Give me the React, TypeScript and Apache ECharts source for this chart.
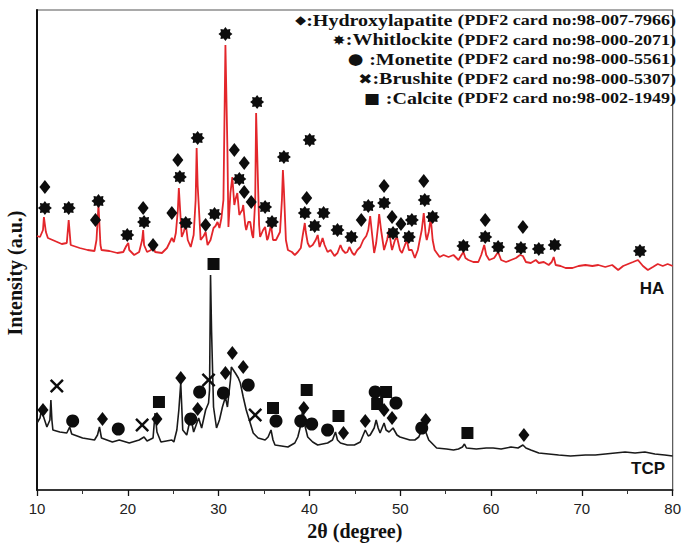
import React, { useEffect, useRef } from "react";
import * as echarts from "echarts";

// XRD pattern of HA sample (2θ in degrees, intensity in a.u.)
const haPattern: [number, number][] = [
  [10.0, 254], [10.33, 253], [10.66, 260], [10.76, 273], [10.98, 258], [11.2, 252], [11.97, 249], [12.73, 246], [13.28, 247], [13.49, 270], [13.71, 245],
  [14.7, 242], [15.57, 240], [16.33, 239], [16.55, 250], [16.77, 285], [16.99, 245], [17.1, 240], [17.97, 239], [18.85, 237], [19.5, 238], [19.83, 244],
  [20.05, 247], [20.16, 240], [20.7, 235], [21.25, 238], [21.58, 250], [21.69, 260], [21.79, 245], [22.12, 238], [22.56, 240], [22.78, 245], [23.0, 238],
  [23.76, 237], [24.31, 242], [24.85, 252], [25.07, 248], [25.29, 257], [25.51, 280], [25.62, 302], [25.73, 285], [25.94, 253], [26.16, 258], [26.38, 266],
  [26.6, 250], [26.93, 243], [27.25, 255], [27.47, 290], [27.58, 342], [27.69, 305], [28.02, 250], [28.35, 254], [28.57, 258], [28.78, 245], [29.11, 250],
  [29.44, 262], [29.66, 264], [29.88, 268], [30.09, 262], [30.31, 272], [30.53, 290], [30.75, 445], [30.97, 340], [31.08, 263], [31.3, 297], [31.51, 313],
  [31.73, 285], [31.84, 290], [32.06, 297], [32.28, 275], [32.39, 277], [32.61, 280], [32.71, 285], [32.93, 265], [33.04, 260], [33.26, 268], [33.48, 268],
  [33.7, 255], [33.81, 252], [34.03, 290], [34.13, 377], [34.24, 340], [34.46, 265], [34.57, 253], [34.9, 260], [35.12, 263], [35.34, 250], [35.45, 252],
  [35.77, 265], [35.99, 250], [36.32, 250], [36.76, 258], [36.97, 290], [37.08, 320], [37.19, 300], [37.41, 250], [37.63, 240], [38.07, 238], [38.39, 235],
  [38.72, 238], [39.05, 242], [39.27, 255], [39.49, 267], [39.6, 258], [39.81, 247], [40.03, 243], [40.36, 245], [40.69, 250], [40.91, 255], [41.12, 243],
  [41.45, 252], [41.67, 245], [42.0, 238], [42.33, 240], [42.76, 234], [43.09, 237], [43.42, 245], [43.64, 240], [43.96, 237], [44.18, 238], [44.4, 243],
  [44.73, 237], [44.95, 235], [45.27, 240], [45.6, 243], [45.93, 250], [46.26, 254], [46.48, 260], [46.69, 274], [46.91, 255], [47.13, 237], [47.35, 247],
  [47.57, 265], [47.68, 276], [47.89, 260], [48.22, 240], [48.55, 250], [48.77, 260], [48.99, 245], [49.1, 240], [49.42, 250], [49.64, 253], [49.97, 240],
  [50.19, 237], [50.52, 245], [50.73, 250], [50.95, 240], [51.28, 240], [51.61, 232], [51.94, 240], [52.15, 250], [52.37, 260], [52.59, 277], [52.81, 255],
  [52.92, 250], [53.14, 258], [53.36, 272], [53.57, 250], [53.79, 240], [54.34, 233], [54.77, 235], [55.32, 233], [55.87, 235], [56.41, 230], [56.74, 235],
  [56.96, 238], [57.18, 232], [57.5, 230], [58.05, 228], [58.6, 228], [58.92, 235], [59.25, 245], [59.47, 235], [59.8, 230], [60.34, 232], [60.78, 238],
  [61.11, 230], [61.65, 228], [62.2, 230], [62.75, 232], [63.18, 235], [63.51, 234], [63.84, 228], [64.38, 227], [64.93, 230], [65.26, 227], [65.81, 228],
  [66.35, 225], [66.68, 228], [66.9, 233], [67.12, 225], [67.66, 224], [68.21, 222], [68.97, 222], [69.63, 224], [70.39, 225], [71.16, 224], [71.81, 225],
  [72.58, 223], [73.34, 225], [74.0, 220], [74.55, 224], [75.09, 226], [75.64, 228], [76.18, 230], [76.73, 224], [77.27, 220], [77.82, 223], [78.36, 226],
  [78.91, 224], [79.45, 226], [80.0, 224],
];

// XRD pattern of TCP sample
const tcpPattern: [number, number][] = [
  [10.0, 67], [10.33, 72], [10.55, 83], [10.66, 75], [11.09, 63], [11.42, 70], [11.53, 90], [11.64, 70], [11.75, 60], [12.51, 58], [13.28, 57], [13.6, 63],
  [13.82, 56], [15.02, 52], [16.33, 50], [16.66, 55], [16.88, 63], [17.1, 52], [18.3, 48], [19.06, 50], [20.16, 47], [21.25, 50], [21.79, 53], [22.12, 49],
  [22.78, 52], [23.0, 77], [23.21, 58], [23.65, 48], [24.85, 50], [25.07, 48], [25.4, 60], [25.62, 80], [25.83, 107], [26.05, 60], [26.49, 55], [26.93, 73],
  [27.25, 58], [27.8, 72], [28.13, 62], [28.57, 80], [28.89, 87], [29.0, 100], [29.11, 215], [29.22, 160], [29.44, 83], [29.77, 62], [30.09, 70], [30.42, 83],
  [30.75, 93], [30.97, 83], [31.3, 110], [31.4, 123], [31.62, 120], [31.84, 117], [32.17, 112], [32.39, 107], [32.71, 93], [33.04, 80], [33.48, 67],
  [33.81, 57], [34.35, 52], [35.12, 50], [35.45, 53], [35.77, 60], [35.99, 50], [36.21, 45], [37.63, 43], [38.39, 47], [38.72, 53], [39.05, 65], [39.27, 82],
  [39.49, 65], [39.81, 53], [40.36, 48], [40.91, 45], [42.0, 47], [42.54, 50], [42.87, 58], [43.09, 50], [43.42, 47], [44.18, 45], [44.95, 45], [45.6, 48],
  [46.15, 60], [46.48, 54], [46.69, 55], [47.13, 62], [47.35, 70], [47.57, 62], [47.78, 57], [48.0, 62], [48.22, 67], [48.44, 60], [48.77, 58], [49.21, 62],
  [49.64, 55], [49.97, 53], [51.06, 50], [51.61, 50], [52.04, 53], [52.37, 60], [52.59, 68], [52.81, 58], [53.14, 50], [54.01, 42], [55.1, 41], [55.87, 40],
  [56.41, 41], [56.85, 43], [57.07, 46], [57.29, 42], [58.38, 41], [59.47, 42], [60.23, 42], [61.11, 41], [62.2, 43], [62.97, 42], [63.51, 45], [63.84, 42],
  [64.38, 40], [65.26, 37], [66.35, 36], [67.44, 35], [68.75, 34], [70.39, 35], [71.48, 35], [72.58, 36], [73.67, 37], [74.76, 38], [75.86, 37], [76.94, 38],
  [78.04, 36], [79.13, 35], [80.0, 34],
];

// Phase markers over the HA pattern
const haHydroxylapatiteMarks: [number, number][] = [
  [10.87, 303], [16.44, 270], [21.69, 282], [22.78, 245], [24.85, 277], [25.51, 330], [28.57, 265], [31.73, 340], [32.82, 327], [32.82, 298],
  [33.59, 288], [39.7, 292], [45.71, 270], [48.22, 304], [49.1, 273], [50.08, 266], [52.59, 309], [59.36, 270], [63.51, 263],
];
const haWhitlockiteMarks: [number, number][] = [
  [10.87, 282], [13.49, 282], [16.77, 289], [19.94, 255], [21.79, 268], [25.73, 313], [26.38, 267], [27.69, 352], [29.55, 276], [30.75, 456],
  [32.28, 311], [34.24, 388], [35.12, 283], [35.88, 268], [37.19, 333], [39.49, 277], [40.03, 350], [40.58, 264], [41.56, 277], [43.09, 260],
  [44.62, 253], [46.48, 284], [48.22, 287], [49.21, 257], [50.95, 253], [51.28, 270], [52.7, 290], [53.57, 273], [56.96, 244], [59.36, 253],
  [60.78, 243], [63.29, 242], [65.26, 241], [67.01, 245], [76.4, 239],
];

// Phase markers over the TCP pattern
const tcpHydroxylapatiteMarks: [number, number][] = [
  [10.66, 80], [17.21, 71], [23.21, 71], [25.83, 112], [27.69, 81], [30.75, 117], [31.51, 137], [32.71, 123], [39.38, 82], [43.75, 57],
  [46.15, 69], [48.22, 80], [49.1, 72], [52.81, 70], [63.62, 55],
];
const tcpMonetiteMarks: [number, number][] = [
  [13.93, 69], [18.95, 61], [26.93, 71], [27.91, 98], [30.53, 97], [33.26, 105], [36.32, 69], [39.05, 69], [40.25, 66], [42.0, 60],
  [47.24, 98], [49.53, 87], [52.37, 62],
];
const tcpBrushiteMarks: [number, number][] = [[12.18, 104], [21.58, 65], [28.89, 110], [34.03, 75]];
const tcpCalciteMarks: [number, number][] = [
  [23.43, 88], [29.44, 226], [35.99, 82], [39.7, 100], [43.2, 74], [47.46, 86], [48.44, 98], [57.4, 57],
];

const phaseSymbols = ["\u25C6", "\u2738", "\u25CF ", "\u2716", "\u25A0 "];
const phaseNames = ["Hydroxylapatite", "Whitlockite", "Monetite", "Brushite", "Calcite"];
const phaseCards = ["98-007-7966", "98-000-2071", "98-000-5561", "98-000-5307", "98-002-1949"];
const sampleLabels = ["HA", "TCP"];

const STAR =
  "path://M20 10L16.47 12.68L17.07 17.07L12.68 16.47L10 20L7.32 16.47L2.93 17.07L3.53 12.68L0 10L3.53 7.32L2.93 2.93L7.32 3.53L10 0L12.68 3.53L17.07 2.93L16.47 7.32Z";
const CROSS = "path://M0 2.5L2.5 0L10 7.5L17.5 0L20 2.5L12.5 10L20 17.5L17.5 20L10 12.5L2.5 20L0 17.5L7.5 10Z";

export default function App() {
  const ref = useRef<HTMLDivElement>(null);
  useEffect(() => {
    if (!ref.current) return;
    const chart = echarts.init(ref.current, undefined, { renderer: "svg" });
    const markColor = "#0d0d0d";
    const scatter = (name: string, data: [number, number][], symbol: string, size: number | number[]) => ({
      name,
      type: "scatter",
      data,
      symbol,
      symbolSize: size,
      itemStyle: { color: markColor, opacity: 1 },
      z: 5,
      silent: true,
    });
    const legendLines = phaseNames.map((n, i) => ({
      type: "text",
      x: 676,
      y: 20 + i * 19.5,
      scaleY: 0.85,
      z: 10,
      style: {
        text: `{s${i}|${phaseSymbols[i]}}{n|:${n} (}{c|PDF2 card no:${phaseCards[i]})}`,
        align: "right",
        verticalAlign: "middle",
        fill: "#111",
        rich: {
          s0: { fontFamily: "DejaVu Sans", fontSize: 14, fill: "#111" },
          s1: { fontFamily: "DejaVu Sans", fontSize: 16, fill: "#111" },
          s2: { fontFamily: "DejaVu Sans", fontSize: 18, fill: "#111" },
          s3: { fontFamily: "DejaVu Sans", fontSize: 17, fill: "#111" },
          s4: { fontFamily: "DejaVu Sans", fontSize: 17, fill: "#111" },
          n: { fontFamily: "Liberation Serif", fontWeight: "bold", fontSize: 20, fill: "#111" },
          c: { fontFamily: "Liberation Serif", fontWeight: "bold", fontSize: 18, fill: "#111" },
        },
      },
    }));
    chart.setOption({
      animation: false,
      backgroundColor: "#fff",
      grid: { left: 37, right: 6, top: 10, bottom: 61, show: true, borderColor: "#555", borderWidth: 1.2 },
      xAxis: {
        type: "value",
        min: 10,
        max: 80,
        interval: 10,
        name: "2\u03B8 (degree)",
        nameLocation: "middle",
        nameGap: 30,
        nameTextStyle: { fontFamily: "Liberation Serif", fontWeight: "bold", fontSize: 20, color: "#111" },
        axisLine: { show: true, lineStyle: { color: "#111", width: 1.5 } },
        axisTick: { show: true, inside: false, length: 6, lineStyle: { color: "#111", width: 1.3 } },
        minorTick: { show: true, splitNumber: 2, length: 4, lineStyle: { color: "#333", width: 1 } },
        axisLabel: { fontFamily: "Liberation Sans", fontSize: 15, color: "#222", margin: 11 },
        splitLine: { show: false },
      },
      yAxis: {
        type: "value",
        min: 0,
        max: 480,
        axisLine: { show: true, lineStyle: { color: "#111", width: 2 } },
        axisTick: { show: false },
        axisLabel: { show: false },
        splitLine: { show: false },
      },
      graphic: [
        {
          type: "text",
          x: 15,
          y: 273,
          rotation: Math.PI / 2,
          style: {
            text: "Intensity (a.u.)",
            align: "center",
            verticalAlign: "middle",
            fontFamily: "Liberation Serif",
            fontWeight: "bold",
            fontSize: 20,
            fill: "#111",
          },
        },
        {
          type: "text",
          x: 652,
          y: 288,
          style: { text: sampleLabels[0], align: "center", verticalAlign: "middle", fontFamily: "Liberation Sans", fontWeight: "bold", fontSize: 17, fill: "#111" },
        },
        {
          type: "text",
          x: 648,
          y: 468,
          style: { text: sampleLabels[1], align: "center", verticalAlign: "middle", fontFamily: "Liberation Sans", fontWeight: "bold", fontSize: 17, fill: "#111" },
        },
        ...legendLines,
      ],
      series: [
        {
          name: "HA",
          type: "line",
          data: haPattern,
          showSymbol: false,
          symbol: "none",
          lineStyle: { color: "#e3262b", width: 1.8 },
          z: 2,
          silent: true,
        },
        {
          name: "TCP",
          type: "line",
          data: tcpPattern,
          showSymbol: false,
          symbol: "none",
          lineStyle: { color: "#1a1a1a", width: 1.6 },
          z: 2,
          silent: true,
        },
        scatter("Hydroxylapatite (HA)", haHydroxylapatiteMarks, "diamond", [11, 14]),
        scatter("Whitlockite (HA)", haWhitlockiteMarks, STAR, 14),
        scatter("Hydroxylapatite (TCP)", tcpHydroxylapatiteMarks, "diamond", [11, 14]),
        scatter("Monetite", tcpMonetiteMarks, "circle", 13),
        scatter("Brushite", tcpBrushiteMarks, CROSS, 14),
        scatter("Calcite", tcpCalciteMarks, "rect", 12),
      ],
    });
    return () => chart.dispose();
  }, []);
  return (
    <div
      ref={ref}
      style={{ position: "fixed", left: 0, top: 0, width: 684, height: 551, background: "#fff" }}
    />
  );
}
